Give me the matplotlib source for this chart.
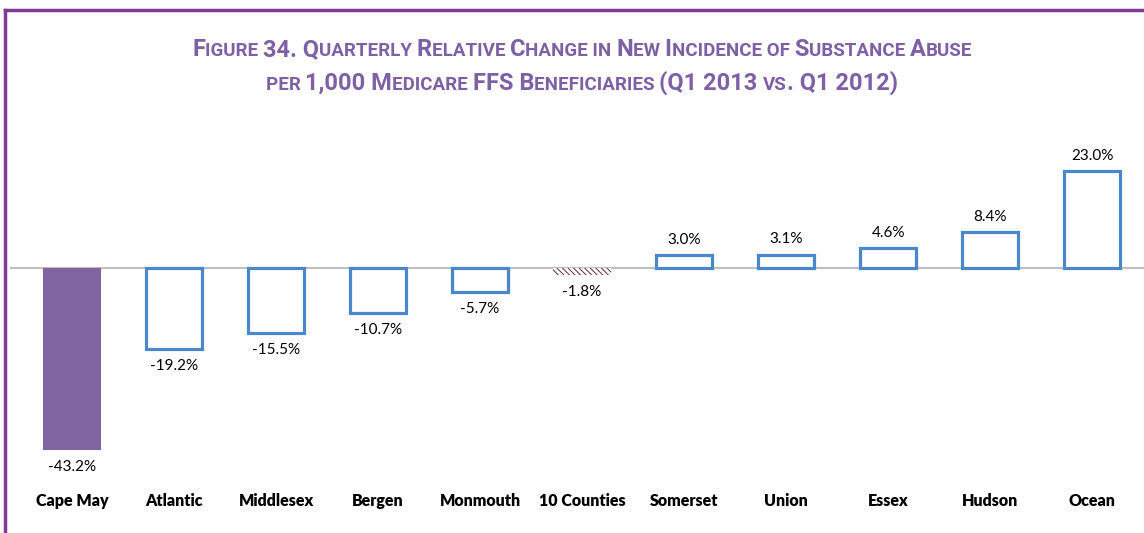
import matplotlib
matplotlib.use("Agg")
import matplotlib.pyplot as plt
from matplotlib.offsetbox import TextArea, HPacker, AnchoredOffsetbox
from matplotlib.lines import Line2D

counties = ["Cape May", "Atlantic", "Middlesex", "Bergen", "Monmouth", "10 Counties",
            "Somerset", "Union", "Essex", "Hudson", "Ocean"]
change = [-43.2, -19.2, -15.5, -10.7, -5.7, -1.8, 3.0, 3.1, 4.6, 8.4, 23.0]
title_lines = ["Figure 34. Quarterly Relative Change in New Incidence of Substance Abuse",
               "per 1,000 Medicare FFS Beneficiaries (Q1 2013 vs. Q1 2012)"]

PURPLE_T = "#7D60A5"
BLUE = "#4A88CE"
FRAME = "#7E3A94"

plt.rcParams["hatch.linewidth"] = 0.7


def small_caps(text, big=17, small=13.5, color=PURPLE_T):
    """Build a small-caps looking line out of text runs."""
    runs = []
    for ch in text:
        is_small = ch.islower()
        if runs and runs[-1][1] == is_small:
            runs[-1][0] += ch
        elif runs and ch == " ":
            runs[-1][0] += ch
        else:
            runs.append([ch, is_small])
    boxes = []
    for s, is_small in runs:
        boxes.append(TextArea(s.upper(), textprops=dict(
            fontsize=small if is_small else big, color=color, fontweight="bold",
            family=["Roboto", "DejaVu Sans"])))
    return HPacker(children=boxes, align="baseline", pad=0, sep=0)


fig = plt.figure(figsize=(11.44, 5.33), dpi=100)

# frame lines (top and left)
fig.add_artist(Line2D([5 / 1144, 1], [1 - 10 / 533] * 2, color=FRAME, lw=2.5,
                      transform=fig.transFigure))
fig.add_artist(Line2D([5 / 1144] * 2, [0, 1 - 10 / 533], color=FRAME, lw=2.5,
                      transform=fig.transFigure))

# title
for line, yc in zip(title_lines, [50, 83]):
    box = AnchoredOffsetbox(loc="center", child=small_caps(line), pad=0, borderpad=0,
                            frameon=False, bbox_to_anchor=(582 / 1144, 1 - yc / 533),
                            bbox_transform=fig.transFigure)
    fig.add_artist(box)

ax = fig.add_axes([10 / 1144, 0, 1 - 10 / 1144, 403 / 533])
ax.set_xlim(-0.61, 10.51)
ax.set_ylim(-62.9, 32.7)
ax.axis("off")

ax.axhline(0, color="#BFBFBF", lw=1.5, zorder=1)

for i, (name, v) in enumerate(zip(counties, change)):
    if i == 0:
        ax.bar(i, v, width=0.57, color="#8064A2", zorder=2)
    elif name == "10 Counties":
        ax.bar(i, v, width=0.57, facecolor="white", edgecolor="#6E2A2A",
               hatch="\\\\\\\\\\\\", linewidth=0, zorder=2)
    else:
        ax.bar(i, v, width=0.55, facecolor="white", edgecolor=BLUE, linewidth=2.3, zorder=2)

    if v >= 0:
        ax.annotate(f"{v:.1f}%", (i, v), xytext=(0, 6), textcoords="offset points",
                    ha="center", va="bottom", fontsize=11, family="Lato")
    else:
        ax.annotate(f"{v:.1f}%", (i, v), xytext=(0, -7), textcoords="offset points",
                    ha="center", va="top", fontsize=11, family="Lato")
    ax.text(i, -55.3, name, ha="center", va="center", fontsize=11.5, fontweight="heavy",
            family="Lato")

fig.savefig("out.png", dpi=100)
